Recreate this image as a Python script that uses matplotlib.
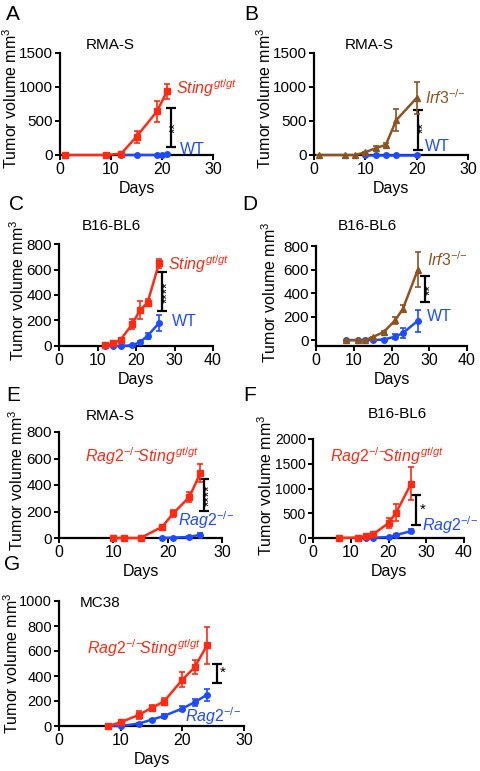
import matplotlib
matplotlib.use("Agg")
import matplotlib.pyplot as plt

plt.rcParams['font.family'] = ['Liberation Sans', 'DejaVu Sans']
plt.rcParams['mathtext.fontset'] = 'custom'
plt.rcParams['mathtext.rm'] = 'Liberation Sans'
plt.rcParams['mathtext.it'] = 'Liberation Sans:italic'
plt.rcParams['mathtext.bf'] = 'Liberation Sans:bold'

RED = '#ff2a14'
BLUE = '#1f4bff'
BROWN = '#8c5420'

# ---------------- data ----------------
# Panel A (RMA-S)
a_days_ko = [1, 9, 12, 15, 19, 21]
a_vol_ko = [0, 0, 20, 270, 640, 940]
a_err_ko = [0, 0, 10, 90, 150, 110]
a_days_wt = [12, 15, 19, 20, 21]
a_vol_wt = [0, 0, 0, 5, 15]
a_err_wt = [0, 0, 0, 0, 5]

# Panel B (RMA-S, Irf3)
b_days_ko = [1, 6, 8, 10, 12, 14, 16, 20]
b_vol_ko = [0, 0, 0, 40, 100, 150, 510, 840]
b_err_ko = [0, 0, 0, 10, 30, 30, 160, 230]
b_days_wt = [10, 12, 14, 16, 20]
b_vol_wt = [0, 0, 0, 0, 0]
b_err_wt = [0, 0, 0, 0, 0]

# Panel C (B16-BL6)
c_days_ko = [12, 14, 16, 19, 21, 23, 26]
c_vol_ko = [10, 20, 50, 170, 280, 340, 650]
c_err_ko = [5, 5, 10, 40, 70, 30, 35]
c_days_wt = [12, 14, 16, 19, 21, 23, 26]
c_vol_wt = [0, 0, 0, 5, 30, 80, 180]
c_err_wt = [0, 0, 0, 3, 10, 25, 60]

# Panel D (B16-BL6, Irf3)
d_days_ko = [8, 11, 13, 15, 18, 21, 23, 27]
d_vol_ko = [0, 0, 0, 25, 70, 170, 265, 600]
d_err_ko = [0, 0, 0, 5, 10, 30, 30, 145]
d_days_wt = [8, 11, 13, 15, 18, 21, 23, 27]
d_vol_wt = [0, 0, 0, 0, 5, 30, 60, 165]
d_err_wt = [0, 0, 0, 0, 5, 20, 40, 95]

# Panel E (RMA-S, Rag2)
e_days_ko = [10, 12, 15, 19, 21, 24, 26]
e_vol_ko = [0, 0, 0, 85, 185, 310, 490]
e_err_ko = [0, 0, 0, 15, 30, 40, 70]
e_days_wt = [19, 21, 24, 26]
e_vol_wt = [0, 3, 8, 25]
e_err_wt = [0, 0, 5, 10]

# Panel F (B16-BL6, Rag2)
f_days_ko = [7, 12, 14, 16, 20, 22, 26]
f_vol_ko = [0, 10, 40, 80, 300, 510, 1100]
f_err_ko = [0, 5, 15, 20, 100, 170, 340]
f_days_wt = [14, 16, 20, 22, 26]
f_vol_wt = [0, 5, 20, 60, 140]
f_err_wt = [0, 0, 10, 20, 40]

# Panel G (MC38, Rag2)
g_days_ko = [8, 10, 13, 15, 17, 20, 22, 24]
g_vol_ko = [0, 30, 90, 145, 195, 370, 470, 645]
g_err_ko = [0, 10, 30, 25, 30, 60, 55, 145]
g_days_wt = [8, 10, 13, 15, 17, 20, 22, 24]
g_vol_wt = [0, 0, 20, 50, 80, 140, 190, 250]
g_err_wt = [0, 0, 5, 5, 15, 20, 30, 50]

panel_letters = ['A', 'B', 'C', 'D', 'E', 'F', 'G']
tumor_lines = ['RMA-S', 'RMA-S', 'B16-BL6', 'B16-BL6', 'RMA-S', 'B16-BL6', 'MC38']
ko_labels = [r'$\mathit{Sting}^{gt/gt}$', r'$\mathit{Irf3}^{{-}/{-}}$',
             r'$\mathit{Sting}^{gt/gt}$', r'$\mathit{Irf3}^{{-}/{-}}$',
             r'$\mathit{Rag2}^{{-}/{-}}\!\mathit{Sting}^{gt/gt}$',
             r'$\mathit{Rag2}^{{-}/{-}}\!\mathit{Sting}^{gt/gt}$',
             r'$\mathit{Rag2}^{{-}/{-}}\!\mathit{Sting}^{gt/gt}$']
wt_labels = ['WT', 'WT', 'WT', 'WT', r'$\mathit{Rag2}^{{-}/{-}}$',
             r'$\mathit{Rag2}^{{-}/{-}}$', r'$\mathit{Rag2}^{{-}/{-}}$']
sig_labels = ['**', '**', '****', '**', '****', '*', '*']
sig_low = [120, 74, 275, 321, 204, 253, 348]
sig_high = [690, 662, 578, 547, 448, 873, 500]

# ---------------- layout (pixels) ----------------
W, H = 480, 771
fig = plt.figure(figsize=(W / 100, H / 100), dpi=100)


def add_ax(left, right, top, bottom):
    return fig.add_axes([left / W, 1 - bottom / H, (right - left) / W, (bottom - top) / H])


panels = [
    dict(box=(60, 213, 53, 155), xlim=(0, 30), ylim=(0, 1500), yt=[0, 500, 1000, 1500], tfs=11,
         ko=(a_days_ko, a_vol_ko, a_err_ko), wt=(a_days_wt, a_vol_wt, a_err_wt), kocol=RED, kom='s',
         title_xy=(0.327, 1.078), ko_xy=(22.7, 985), wt_xy=(23.5, 88), sig_x=21.8, star_xy=(22.7, 400),
         letter_px=(13, 14), ylab=(-0.32, 0.56), xlab=(0.5, -0.324)),
    dict(box=(314, 468, 53, 155), xlim=(0, 30), ylim=(0, 1500), yt=[0, 500, 1000, 1500], tfs=11,
         ko=(b_days_ko, b_vol_ko, b_err_ko), wt=(b_days_wt, b_vol_wt, b_err_wt), kocol=BROWN, kom='^',
         title_xy=(0.36, 1.078), ko_xy=(21.7, 838), wt_xy=(21.7, 122), sig_x=20.3, star_xy=(21.4, 397),
         letter_px=(251, 14), ylab=(-0.32, 0.56), xlab=(0.5, -0.324)),
    dict(box=(59, 213, 244, 346), xlim=(0, 40), ylim=(0, 800), yt=[0, 200, 400, 600, 800], tfs=11,
         ko=(c_days_ko, c_vol_ko, c_err_ko), wt=(c_days_wt, c_vol_wt, c_err_wt), kocol=RED, kom='s',
         title_xy=(0.338, 1.176), ko_xy=(28.3, 643), wt_xy=(29.4, 190), sig_x=26.7, star_xy=(28.1, 425),
         letter_px=(17, 205), ylab=(-0.27, 0.55), xlab=(0.5, -0.324)),
    dict(box=(316, 467, 246, 346), xlim=(0, 40), ylim=(-50, 800), yt=[0, 200, 400, 600, 800], tfs=11,
         ko=(d_days_ko, d_vol_ko, d_err_ko), wt=(d_days_wt, d_vol_wt, d_err_wt), kocol=BROWN, kom='^',
         title_xy=(0.338, 1.198), ko_xy=(29.3, 680), wt_xy=(29.3, 198), sig_x=28.9, star_xy=(30.3, 430),
         letter_px=(250, 205), ylab=(-0.31, 0.54), xlab=(0.5, -0.34)),
    dict(box=(59, 222, 432, 538), xlim=(0, 30), ylim=(0, 800), yt=[0, 200, 400, 600, 800], tfs=11,
         ko=(e_days_ko, e_vol_ko, e_err_ko), wt=(e_days_wt, e_vol_wt, e_err_wt), kocol=RED, kom='s',
         title_xy=(0.313, 1.15), ko_xy=(4.8, 619), wt_xy=(21.9, 131), sig_x=26.7, star_xy=(27.8, 326),
         letter_px=(13, 396), ylab=(-0.262, 0.547), xlab=(0.5, -0.316)),
    dict(box=(313, 464, 439, 538), xlim=(0, 40), ylim=(0, 2000), yt=[0, 500, 1000, 1500, 2000], tfs=10,
         ko=(f_days_ko, f_vol_ko, f_err_ko), wt=(f_days_wt, f_vol_wt, f_err_wt), kocol=RED, kom='s',
         title_xy=(0.556, 1.25), ko_xy=(4.5, 1657), wt_xy=(28.8, 263), sig_x=27.3, star_xy=(29.0, 580),
         letter_px=(250, 396), ylab=(-0.315, 0.535), xlab=(0.5, -0.338)),
    dict(box=(59, 244, 601, 726), xlim=(0, 30), ylim=(0, 1000), yt=[0, 200, 400, 600, 800, 1000], tfs=10.5,
         ko=(g_days_ko, g_vol_ko, g_err_ko), wt=(g_days_wt, g_vol_wt, g_err_wt), kocol=RED, kom='s',
         title_xy=(0.22, 0.984), ko_xy=(4.6, 626), wt_xy=(20.5, 82), sig_x=25.7, star_xy=(26.6, 424),
         letter_px=(12, 565), ylab=(-0.255, 0.504), xlab=(0.5, -0.268)),
]

FS = 11.5
for i, p in enumerate(panels):
    ax = add_ax(*p['box'])
    ax.set_xlim(*p['xlim'])
    ax.set_ylim(*p['ylim'])
    ax.set_yticks(p['yt'])
    ax.set_xticks(list(range(int(p['xlim'][0]), int(p['xlim'][1]) + 1, 10)))
    for s in ['top', 'right']:
        ax.spines[s].set_visible(False)
    for s in ['left', 'bottom']:
        ax.spines[s].set_linewidth(1.6)
    ax.tick_params(width=1.4, length=3.5, labelsize=p['tfs'], pad=1.5, direction='out')
    ax.tick_params(axis='x', labelsize=11.5)
    ax.set_xlabel('Days', fontsize=FS)
    ax.set_ylabel('Tumor volume mm$^3$', fontsize=FS)
    ax.yaxis.set_label_coords(*p['ylab'])
    ax.yaxis.label.set_va('center')
    ax.xaxis.set_label_coords(*p['xlab'])
    ax.xaxis.label.set_va('center')

    wd, wv, we = p['wt']
    ax.errorbar(wd, wv, yerr=we, color=BLUE, marker='o', ms=4, lw=1.8, elinewidth=1.2,
                capsize=2.5, capthick=1.2, clip_on=False, zorder=3)
    kd, kv, ke = p['ko']
    ax.errorbar(kd, kv, yerr=ke, color=p['kocol'], marker=p['kom'], ms=4.5, lw=1.8, elinewidth=1.2,
                capsize=2.5, capthick=1.2, clip_on=False, zorder=4)

    # significance bracket
    mid = (sig_low[i] + sig_high[i]) / 2
    half = (sig_high[i] - sig_low[i]) / 2
    ax.errorbar([p['sig_x']], [mid], yerr=[half], color='black', fmt='none', elinewidth=1.6,
                capsize=3.5, capthick=1.6, clip_on=False)
    nstar = len(sig_labels[i])
    ax.text(p['star_xy'][0], p['star_xy'][1], sig_labels[i], rotation=0 if nstar == 1 else 90,
            ha='center', va='center', fontsize=10 if nstar > 1 else 11, color='black')

    ax.text(p['ko_xy'][0], p['ko_xy'][1], ko_labels[i], color=p['kocol'], fontsize=FS,
            ha='left', va='center')
    ax.text(p['wt_xy'][0], p['wt_xy'][1], wt_labels[i], color=BLUE, fontsize=FS,
            ha='left', va='center')
    ax.text(p['title_xy'][0], p['title_xy'][1], tumor_lines[i], transform=ax.transAxes,
            fontsize=11, ha='center', va='center')
    lx, ly = p['letter_px']
    fig.text(lx / W, 1 - ly / H, panel_letters[i], fontsize=15, ha='center', va='center')

fig.savefig('out.png', dpi=100)
